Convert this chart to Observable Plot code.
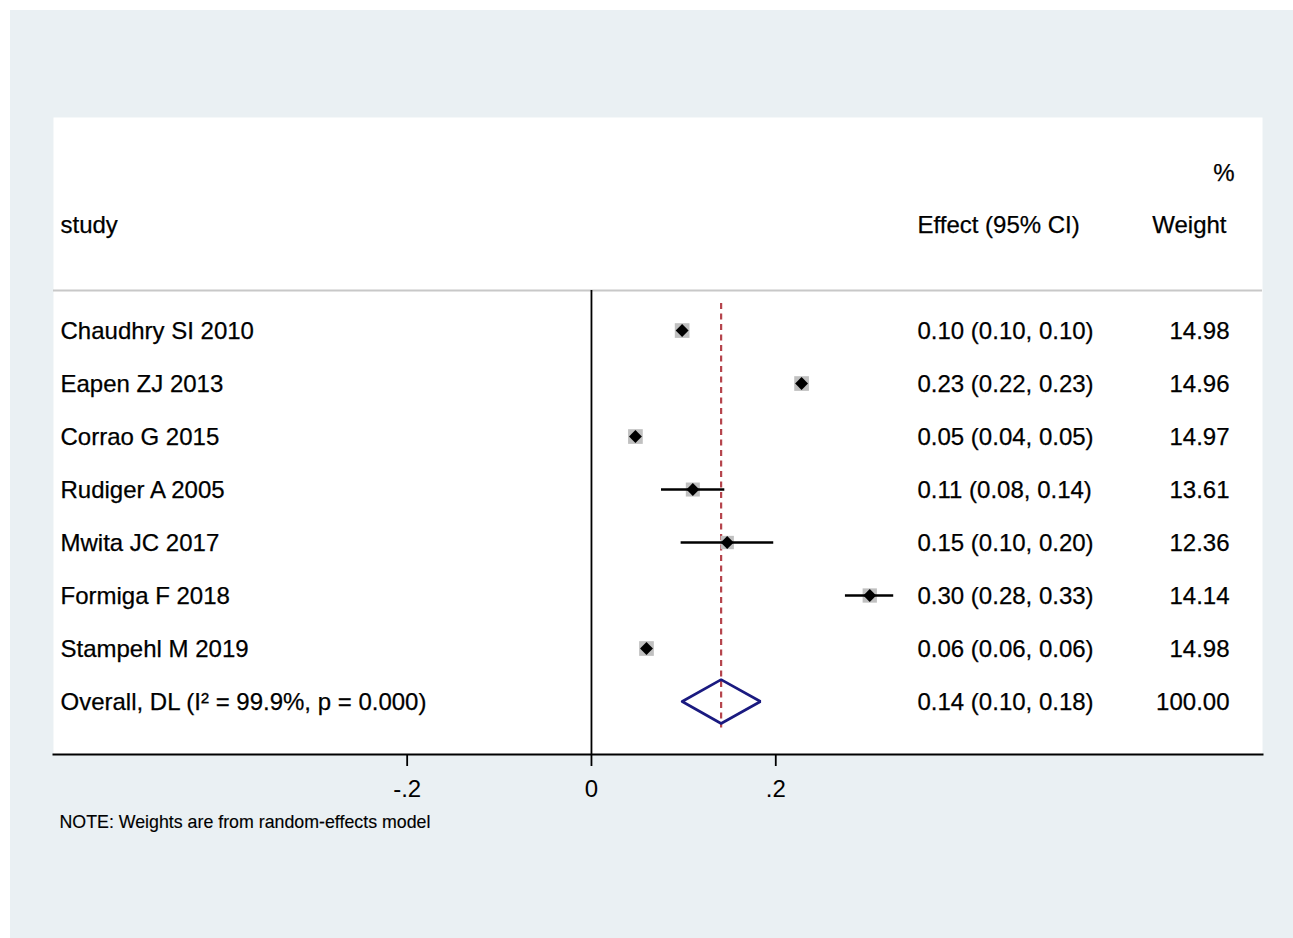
<!DOCTYPE html>
<html>
<head>
<meta charset="utf-8">
<script src="https://cdn.jsdelivr.net/npm/d3@7"></script>
<script src="https://cdn.jsdelivr.net/npm/@observablehq/plot@0.6"></script>
<style>
  html, body { margin: 0; padding: 0; background: white; }
  #wrap { position: relative; width: 1293px; height: 938px; background: white; overflow: hidden; }
  #bg { position: absolute; left: 10px; top: 10px; right: 0; bottom: 0; background: #eaf0f3; }
  #chart { position: absolute; left: 0; top: 0; }
</style>
</head>
<body>
<div id="wrap"><div id="bg"></div><div id="chart"></div></div>
<script>
// ---- data ----
const studies = ["Chaudhry SI 2010", "Eapen ZJ 2013", "Corrao G 2015", "Rudiger A 2005",
                 "Mwita JC 2017", "Formiga F 2018", "Stampehl M 2019"];
const effect = [0.0984, 0.228, 0.0477, 0.110, 0.1473, 0.302, 0.0597];
const lower  = [0.097, 0.224, 0.044, 0.076, 0.0973, 0.2756, 0.058];
const upper  = [0.100, 0.232, 0.050, 0.1447, 0.1978, 0.328, 0.061];
const weight = [14.98, 14.96, 14.97, 13.61, 12.36, 14.14, 14.98];
const overallLabel = "Overall, DL (I\u00B2 = 99.9%, p = 0.000)";
const overallEffect = 0.1407, overallLower = 0.0984, overallUpper = 0.1834, overallWeight = 100.00;
const xTicks = [-0.2, 0, 0.2];
const headers = {study: "study", effect: "Effect (95% CI)", weight: "Weight", pct: "%"};
const note = "NOTE: Weights are from random-effects model";

// ---- build tables ----
const fmt = v => v.toFixed(2);
const rows = studies.map((s, i) => ({
  study: s, row: i, est: effect[i], lo: lower[i], hi: upper[i], weight: weight[i],
  effText: `${fmt(effect[i])} (${fmt(lower[i])}, ${fmt(upper[i])})`,
  wText: weight[i].toFixed(2)
}));
const ov = {
  study: overallLabel, row: studies.length, est: overallEffect, lo: overallLower, hi: overallUpper,
  effText: `${fmt(overallEffect)} (${fmt(overallLower)}, ${fmt(overallUpper)})`,
  wText: overallWeight.toFixed(2)
};
const allRows = [...rows, ov];
const dh = 0.415; // half-height of summary diamond (in rows)
const diamond = [
  {x: ov.lo, y: ov.row}, {x: ov.est, y: ov.row - dh}, {x: ov.hi, y: ov.row},
  {x: ov.est, y: ov.row + dh}, {x: ov.lo, y: ov.row}
];

// text column positions (in effect units, as Stata places them)
const STUDY_X = -0.5762, EFF_X = 0.3538, W_X = 0.6913;
const SEP_Y = -0.755, BOTTOM_Y = 8;
const font = "'Liberation Sans', Arial, Helvetica, sans-serif";
const txt = {fontSize: 24, fill: "black", stroke: "black", strokeWidth: 0.25, dy: 1};

const chart = Plot.plot({
  width: 1293, height: 938,
  marginLeft: 53, marginRight: 31, marginTop: 117, marginBottom: 184,
  x: {domain: [-0.5838, 0.7282]},
  y: {domain: [-4.02, BOTTOM_Y], reverse: true, axis: null},
  r: {type: "identity"},
  style: {background: "transparent", fontFamily: font, fontSize: "24px", color: "black", overflow: "visible"},
  marks: [
    Plot.frame({fill: "white"}),
    Plot.ruleY([SEP_Y], {stroke: "#c8c8c8", strokeWidth: 2}),
    Plot.ruleX([0], {y1: SEP_Y, y2: BOTTOM_Y, stroke: "black", strokeWidth: 1.8}),
    Plot.ruleX([ov], {x: "est", y1: -0.51, y2: 7.5, stroke: "#b5444c", strokeWidth: 2.2, strokeDasharray: "6,4.5"}),
    Plot.dot(rows, {x: "est", y: "row", symbol: "square", r: d => 2.144 * Math.sqrt(d.weight), fill: "#c0c0c0", stroke: "none"}),
    Plot.ruleY(rows, {x1: "lo", x2: "hi", y: "row", stroke: "black", strokeWidth: 2.6}),
    Plot.dot(rows, {x: "est", y: "row", symbol: "diamond2", r: 5.8, fill: "black", stroke: "none"}),
    Plot.line(diamond, {x: "x", y: "y", stroke: "#1a1a80", strokeWidth: 2.6, strokeLinejoin: "miter"}),
    // columns
    Plot.text(allRows, {x: () => STUDY_X, y: "row", text: "study", textAnchor: "start", ...txt}),
    Plot.text(allRows, {x: () => EFF_X, y: "row", text: "effText", textAnchor: "start", ...txt}),
    Plot.text(allRows, {x: () => W_X, y: "row", text: "wText", textAnchor: "end", ...txt, dx: 1}),
    // headers
    Plot.text([headers.study], {x: () => STUDY_X, y: () => -2, text: d => d, textAnchor: "start", ...txt}),
    Plot.text([headers.effect], {x: () => EFF_X, y: () => -2, text: d => d, textAnchor: "start", ...txt}),
    Plot.text([headers.weight], {x: () => W_X, y: () => -2, text: d => d, textAnchor: "end", ...txt, dx: -2}),
    Plot.text([headers.pct], {x: () => W_X, y: () => -2.98, text: d => d, textAnchor: "end", ...txt, dx: 6}),
    // axis
    Plot.frame({anchor: "bottom", stroke: "black", strokeWidth: 2}),
    Plot.axisX({ticks: xTicks, tickSize: 12, tickPadding: 13, fontSize: 24, strokeWidth: 1.8,
      tickFormat: d => d === 0 ? "0" : String(d).replace("0.", ".")}),
    Plot.text([note], {x: () => STUDY_X - 0.0011, y: () => 9.28, text: d => d, textAnchor: "start", fontSize: 17.8, fill: "black", stroke: "black", strokeWidth: 0.15})
  ]
});
document.getElementById("chart").appendChild(chart);
</script>
</body>
</html>
